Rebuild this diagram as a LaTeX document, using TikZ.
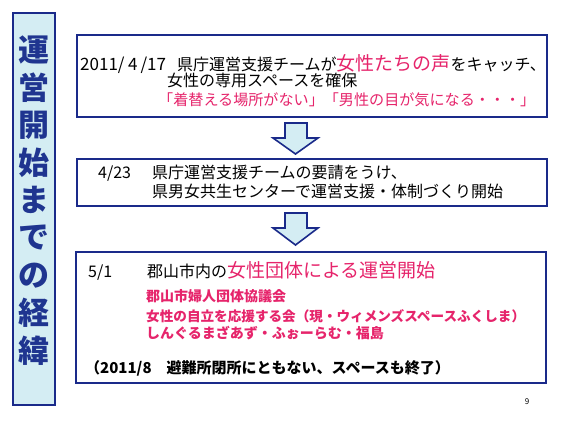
\documentclass[tikz,border=0pt]{standalone}
\usepackage{fontspec}
\setmainfont{Noto Sans CJK JP}
\definecolor{navy}{HTML}{1A2A8A}
\definecolor{charnavy}{HTML}{1F3590}
\definecolor{pinkred}{HTML}{E6246B}
\definecolor{pale}{HTML}{D4EDF3}
\newcommand{\fs}[1]{\fontsize{#1}{#1}\selectfont}
\tikzset{
  frame/.style={draw=navy, line width=2pt, fill=white},
  vtitle/.style={font=\fs{31}\bfseries, text=charnavy, inner sep=0pt, anchor=center},
  txt/.style={inner sep=0pt, anchor=base west, font=\fs{16}},
  pinkb/.style={inner sep=0pt, anchor=base west, font=\fs{14}\bfseries, text=pinkred},
  downarrow/.style={draw=navy, line width=1.6pt, fill=pale, line join=miter}
}
\begin{document}
\begin{tikzpicture}[x=1pt,y=-1pt]
\useasboundingbox (0,0) rectangle (561,422);
\fill[white] (0,0) rectangle (561,422);
% left title column
\draw[draw=navy, line width=2pt, fill=pale] (13,13) rectangle (55,405);
\foreach \c [count=\i from 0] in {運,営,開,始,ま,で,の,経,緯}{
  \node[vtitle] (t\i) at (34,{50+37.6*\i}) {\c};
}
% boxes
\draw[frame] (77,35) rectangle (547,117);
\draw[frame] (77,159) rectangle (547,206);
\draw[frame] (76,252) rectangle (546,383);
% arrows
\draw[downarrow] (285,123) -- (307,123) -- (307,138) -- (318,138) -- (295.5,154) -- (273,138) -- (285,138) -- cycle;
\draw[downarrow] (285,213) -- (307,213) -- (307,228) -- (318,228) -- (295.5,245) -- (273,228) -- (285,228) -- cycle;
% box 1 text
\node[txt, font=\fs{17}] (a0) at (80,70.6) {2011/\hspace{3.5pt}4\hspace{3pt}/17};
\node[txt] (a1) at (177,70.6) {県庁運営支援チームが{\color{pinkred}\fs{19}女性たちの声}をキャッチ、};
\node[txt] (a2) at (167,86.6) {女性の専用スペースを確保};
\node[txt, font=\fs{15.1}, text=pinkred] (a3) at (158,105.4) {「着替える場所がない」「男性の目が気になる・・・」};
% box 2 text
\node[txt] (b0) at (98,178) {4/23};
\node[txt] (b1) at (152,178) {県庁運営支援チームの要請をうけ、};
\node[txt] (b2) at (152,197) {県男女共生センターで運営支援・体制づくり開始};
% box 3 text
\node[txt] (c0) at (88,277.6) {5/1};
\node[txt] (c1) at (147,277.6) {郡山市内の{\color{pinkred}\fs{19}女性団体による運営開始}};
\node[pinkb] (c2) at (146,301.8) {郡山市婦人団体協議会};
\node[pinkb, font=\fs{13.6}\bfseries] (c3) at (146,321.8) {女性の自立を応援する会（現・ウィメンズスペースふくしま）};
\node[pinkb] (c4) at (146,338.8) {しんぐるまざあず・ふぉーらむ・福島};
\node[txt, font=\fs{15}\bfseries] (c5) at (85,373) {（2011/8　避難所閉所にともない、スペースも終了）};
% page number
\node[inner sep=0pt, font=\fs{8}] (pg) at (527,402) {9};
\end{tikzpicture}
\end{document}
